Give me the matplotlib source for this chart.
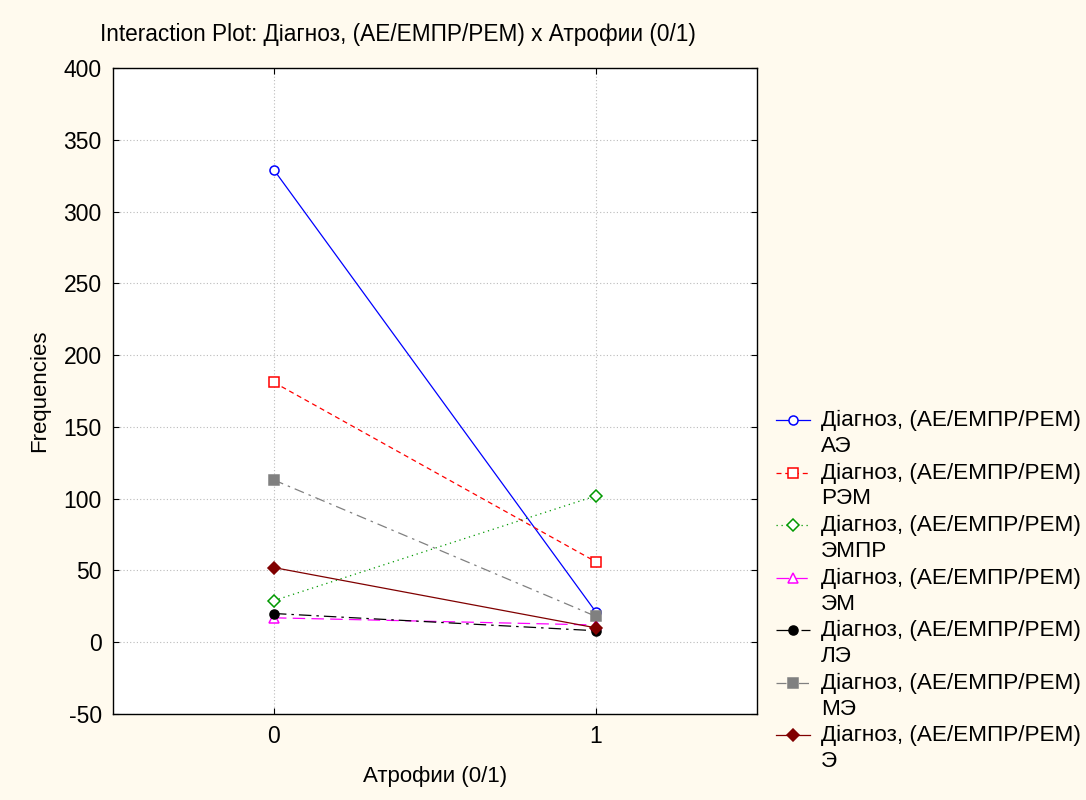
import matplotlib.pyplot as plt
from matplotlib.legend_handler import HandlerLine2D

# data
atrophy = [0, 1]
groups = ['АЭ', 'РЭМ', 'ЭМПР', 'ЭМ', 'ЛЭ', 'МЭ', 'Э']
freq_ae = [329, 21]
freq_rem = [181, 56]
freq_empr = [29, 102]
freq_em = [17, 12]
freq_le = [20, 8]
freq_me = [113, 18]
freq_e = [52, 10]

series = [freq_ae, freq_rem, freq_empr, freq_em, freq_le, freq_me, freq_e]
colors = ['#0000ff', '#ff0000', '#009900', '#ff00ff', '#000000', '#808080', '#800000']
styles = ['-', (0, (4, 3)), (0, (1, 3)), (0, (10, 5)), (0, (10, 4, 2, 4)), (0, (8, 4, 2, 4)), '-']
markers = ['o', 's', 'D', '^', 'o', 's', 'D']
filled = [False, False, False, False, True, True, True]
msizes = [6.5, 6.5, 6, 6.5, 6.5, 6.5, 6]


class FirstLineHandler(HandlerLine2D):
    # put the legend handle next to the first line of a two-line label
    def create_artists(self, legend, orig_handle, xdescent, ydescent,
                       width, height, fontsize, trans):
        return super().create_artists(legend, orig_handle, xdescent,
                                      ydescent - 1.2 * fontsize, width, height,
                                      fontsize, trans)


plt.rcParams['font.family'] = ['Liberation Sans', 'DejaVu Sans']
plt.rcParams['axes.unicode_minus'] = False

fig = plt.figure(figsize=(10.86, 8), dpi=100, facecolor='#fffaee')
ax = fig.add_axes([0.104, 0.1075, 0.593, 0.8075])
ax.set_facecolor('white')

lines = []
for vals, g, c, ls, m, f, ms in zip(series, groups, colors, styles, markers, filled, msizes):
    ln, = ax.plot(atrophy, vals, color=c, linestyle=ls, linewidth=0.9, marker=m,
                  markersize=ms, markerfacecolor=c if f else 'white',
                  markeredgecolor=c, markeredgewidth=1.1,
                  label='Діагноз, (АЕ/ЕМПР/РЕМ)\n' + g)
    lines.append(ln)

ax.set_xlim(-0.5, 1.5)
ax.set_ylim(-50, 400)
ax.set_xticks(atrophy)
ax.set_yticks(range(-50, 401, 50))
ax.tick_params(direction='in', length=4, top=True, right=True, labelsize=16.5, pad=8)
ax.grid(True, color='#bbbbbb', linestyle=(0, (1, 2)), linewidth=0.8)
for s in ax.spines.values():
    s.set_linewidth(1.0)

ax.set_xlabel('Атрофии (0/1)', fontsize=16, labelpad=13)
ax.set_ylabel('Frequencies', fontsize=16, labelpad=10)

fig.text(100 / 1086, 1 - 35 / 800, 'Interaction Plot: Діагноз, (АЕ/ЕМПР/РЕМ) x Атрофии (0/1)',
         fontsize=16.3, ha='left', va='center')

leg = fig.legend(handles=lines, loc='upper left', bbox_to_anchor=(767 / 1086, 1 - 401 / 800),
                 frameon=False, fontsize=16.2, handlelength=1.5, handletextpad=0.5,
                 labelspacing=0.25, borderaxespad=0,
                 handler_map={ln: FirstLineHandler() for ln in lines})
for t in leg.get_texts():
    t.set_linespacing(1.3)

fig.savefig('out.png', dpi=100, facecolor=fig.get_facecolor())
